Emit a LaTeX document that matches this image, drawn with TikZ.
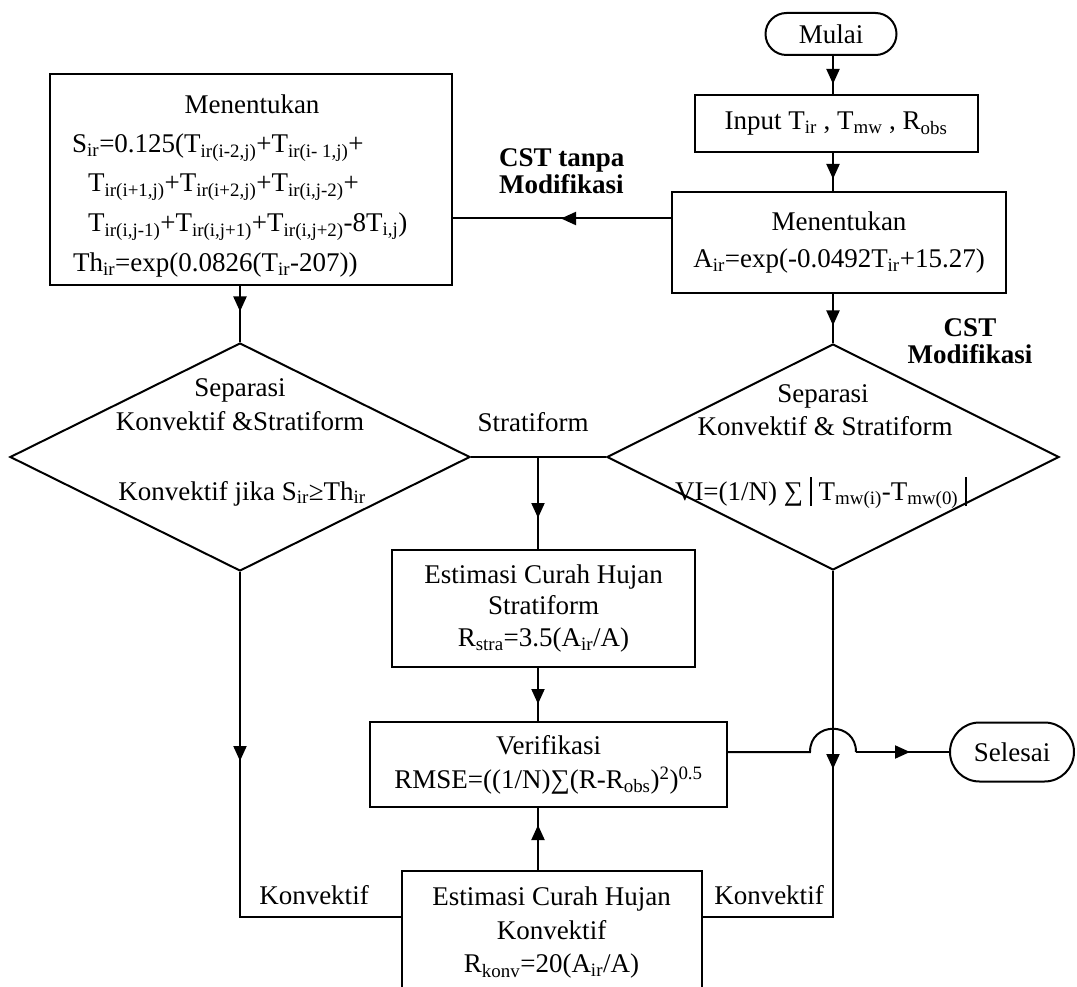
\documentclass[tikz,border=0pt]{standalone}
\usepackage{fontspec}
\setmainfont{Liberation Serif}
\usetikzlibrary{arrows.meta,shapes.geometric,shapes.misc,decorations.markings,calc}
\newcommand{\lsub}[1]{\textsubscript{#1}}
\newcommand{\lsup}[1]{\textsuperscript{#1}}
\newcommand{\vbar}{\rule[-6pt]{2pt}{29pt}}
\tikzset{
  every node/.style={font=\fontsize{27}{32}\selectfont, inner sep=0pt},
  pbox/.style={draw, line width=2pt, rectangle, align=center},
  term/.style={draw, line width=2pt, rounded rectangle, align=center},
  dec/.style={draw, line width=2pt, diamond, inner sep=0pt},
  conn/.style={line width=2pt},
  marr/.style={conn, postaction={decorate},
    decoration={markings, mark=at position #1 with {\arrow{Triangle[length=15pt,width=13pt]}}}},
  lbl/.style={align=center},
  bl/.style={font=\bfseries\fontsize{27}{27}\selectfont},
}
\begin{document}
\begin{tikzpicture}[x=1pt,y=-1pt]
\useasboundingbox (0,0) rectangle (1077,987);
\fill[white] (0,0) rectangle (1077,987);

% terminals and processes
\node[term, minimum width=131pt, minimum height=42pt] (mulai) at (831,34) {Mulai};
\node[pbox, minimum width=283pt, minimum height=57pt] (input) at (836,124)
  {Input T\lsub{ir} , T\lsub{mw} , R\lsub{obs}};
\node[pbox, minimum width=334pt, minimum height=101pt, font=\fontsize{27}{37}\selectfont] (ment2) at (839,243)
  {Menentukan\\A\lsub{ir}=exp(-0.0492T\lsub{ir}+15.27)};

\node[pbox, minimum width=402pt, minimum height=211pt] (lbox) at (251,180) {};
\node[anchor=base] (lt0) at (252,114) {Menentukan};
\node[anchor=base west] (lt1) at (72,153) {S\lsub{ir}=0.125(T\lsub{ir(i-2,j)}+T\lsub{ir(i- 1,j)}+};
\node[anchor=base west] (lt2) at (88,192) {T\lsub{ir(i+1,j)}+T\lsub{ir(i+2,j)}+T\lsub{ir(i,j-2)}+};
\node[anchor=base west] (lt3) at (88,232) {T\lsub{ir(i,j-1)}+T\lsub{ir(i,j+1)}+T\lsub{ir(i,j+2)}-8T\lsub{i,j})};
\node[anchor=base west] (lt4) at (73,272) {Th\lsub{ir}=exp(0.0826(T\lsub{ir}-207))};

% decisions
\node[dec, minimum width=460pt, minimum height=228pt] (d1) at (240,457) {};
\node[anchor=base] (d1a) at (240,396) {Separasi};
\node[anchor=base] (d1b) at (240,430) {Konvektif \&Stratiform};
\node[anchor=base] (d1c) at (242,500) {Konvektif jika S\lsub{ir}≥Th\lsub{ir}};

\node[dec, minimum width=452pt, minimum height=226pt] (d2) at (833,457) {};
\node[anchor=base] (d2a) at (823,402) {Separasi};
\node[anchor=base] (d2b) at (825,435) {Konvektif \& Stratiform};
\node[anchor=base] (d2c) at (821,500) {VI=(1/N) ∑ \vbar\ T\lsub{mw(i)}-T\lsub{mw(0)} \vbar};

% estimation and verification
\node[pbox, minimum width=303pt, minimum height=117pt, font=\fontsize{27}{31.5}\selectfont] (strat) at (543.5,608.5)
  {Estimasi Curah Hujan\\Stratiform\\R\lsub{stra}=3.5(A\lsub{ir}/A)};
\node[pbox, minimum width=357pt, minimum height=85pt, font=\fontsize{27}{34}\selectfont] (verif) at (548.5,764.5)
  {Verifikasi\\RMSE=((1/N)∑(R-R\lsub{obs})\lsup{2})\lsup{0.5}};
\node[pbox, minimum width=300pt, minimum height=124pt, font=\fontsize{27}{33.5}\selectfont] (konv) at (551.5,933)
  {Estimasi Curah Hujan\\Konvektif\\R\lsub{konv}=20(A\lsub{ir}/A)};
\node[term, minimum width=124pt, minimum height=59pt] (selesai) at (1012,752) {Selesai};

% labels
\node[bl, anchor=west, align=left] (cst1) at (499,171) {CST tanpa\\Modifikasi};
\node[bl, align=center] (cst2) at (970,341) {CST\\Modifikasi};
\node[anchor=base] (lstr) at (533,431) {Stratiform};
\node[anchor=base] (lk1) at (314,904) {Konvektif};
\node[anchor=base] (lk2) at (769,904) {Konvektif};

% connectors (common vertical axis through d2.north)
\draw[marr=28pt] (mulai.south -| d2.north) -- (input.north -| d2.north);
\draw[marr=25.5pt] (input.south -| d2.north) -- (ment2.north -| d2.north);
\draw[marr=31pt] (ment2.south -| d2.north) -- (d2.north);
\coordinate (hl) at ($(ment2.north west)+(0,27)$);
\draw[marr=110pt] (hl) -- (hl -| lbox.east);
\draw[marr=25pt] (lbox.south -| d1.north) -- (d1.north);
\draw[conn] (d1.east) -- (d2.west);
\coordinate (sj) at (538,457);
\draw[marr=61pt] (sj) -- (sj |- strat.north);
\draw[marr=36pt] (strat.south -| sj) -- (verif.north -| sj);
\draw[marr=45pt] (konv.north -| sj) -- (verif.south -| sj);
\coordinate (kl) at ($(konv.west)+(0,-16)$);
\coordinate (kr) at ($(konv.east)+(0,-16)$);
\draw[marr=189pt] (d1.south) |- (kl);
\draw[marr=198pt] (d2.south) |- (kr);
\coordinate (ve) at ($(verif.north east)+(0,31)$);
\coordinate (hopL) at ($(ve -| d2.south)+(-23,0)$);
\coordinate (hopR) at ($(ve -| d2.south)+(23,0)$);
\draw[conn] (ve) -- (hopL) .. controls +(0,-31) and +(0,-31) .. (hopR);
\draw[marr=54pt] (hopR) -- (hopR -| selesai.west);
\end{tikzpicture}
\end{document}
